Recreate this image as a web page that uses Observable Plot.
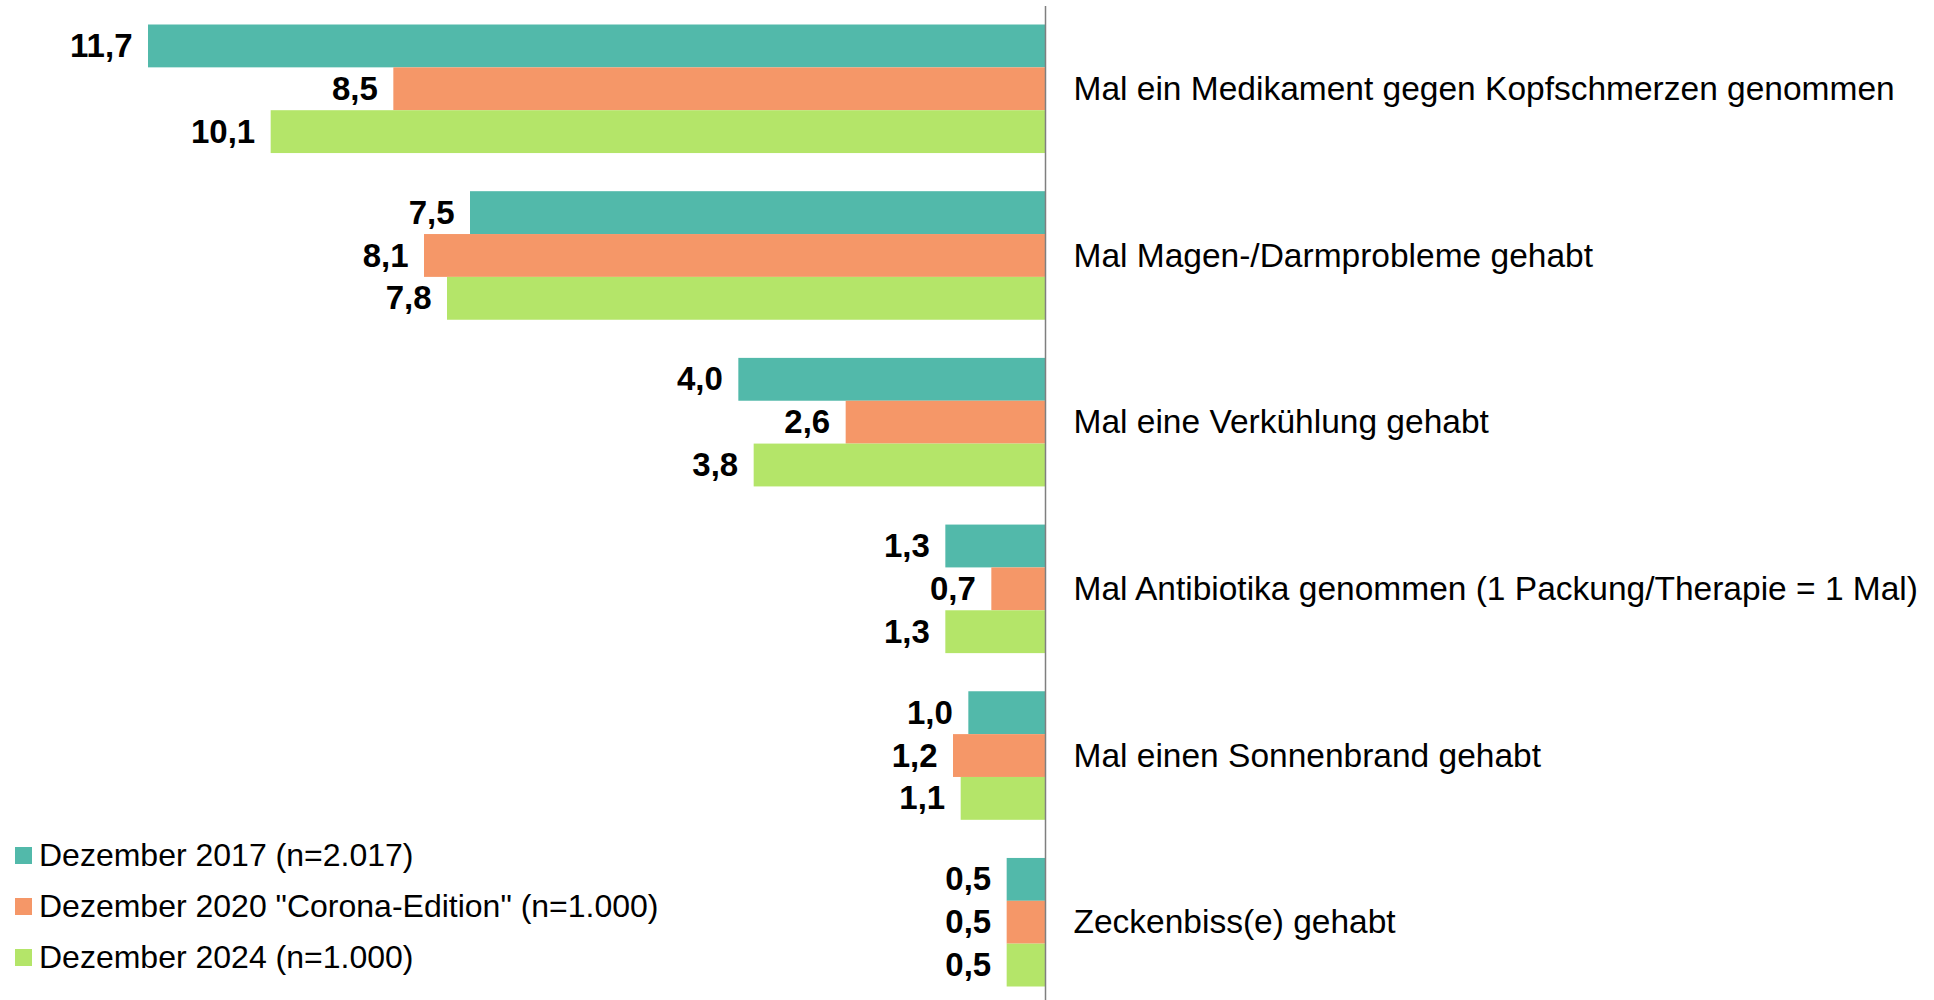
<!DOCTYPE html>
<html>
<head>
<meta charset="utf-8">
<script src="https://cdn.jsdelivr.net/npm/d3@7"></script>
<script src="https://cdn.jsdelivr.net/npm/@observablehq/plot@0.6"></script>
<style>
  html, body { margin: 0; padding: 0; background: #fff; }
  #wrap { position: relative; width: 1934px; height: 1000px; font-family: "Liberation Sans", Arial, sans-serif; }
  #legend { position: absolute; left: 15px; top: 830px; }
  .row { display: flex; align-items: center; height: 51px; font-size: 32px; color: #000; }
  .sw { width: 17px; height: 17px; margin-right: 7px; flex: none; }
</style>
</head>
<body>
<div id="wrap"><div id="legend"></div></div>
<script>
const categories = [
  "Mal ein Medikament gegen Kopfschmerzen genommen",
  "Mal Magen-/Darmprobleme gehabt",
  "Mal eine Verkühlung gehabt",
  "Mal Antibiotika genommen (1 Packung/Therapie = 1 Mal)",
  "Mal einen Sonnenbrand gehabt",
  "Zeckenbiss(e) gehabt"
];
const series = [
  "Dezember 2017 (n=2.017)",
  "Dezember 2020 \"Corona-Edition\" (n=1.000)",
  "Dezember 2024 (n=1.000)"
];
const v2017 = [11.7, 7.5, 4.0, 1.3, 1.0, 0.5];
const v2020 = [8.5, 8.1, 2.6, 0.7, 1.2, 0.5];
const v2024 = [10.1, 7.8, 3.8, 1.3, 1.1, 0.5];
const colors = ["#52B9AA", "#F59768", "#B4E569"];

const G = 3.89; // group step, in bar heights
const valuesBySeries = [v2017, v2020, v2024];
const rows = [];
categories.forEach((c, i) => {
  valuesBySeries.forEach((vals, j) => {
    rows.push({cat: c, series: series[j], value: vals[i], pos: i * G + j});
  });
});
const fmt = v => v.toFixed(1).replace(".", ",");

const chart = Plot.plot({
  width: 1934,
  height: 1000,
  marginTop: 6,
  marginBottom: 0,
  marginLeft: 0,
  marginRight: 0,
  style: {fontFamily: "Liberation Sans, Arial, sans-serif", background: "#fff"},
  x: {domain: [0, 11.7], range: [1045, 148], axis: null},
  y: {domain: [0, (categories.length - 1) * G + 3], range: [24.5, 986.5], axis: null},
  color: {domain: series, range: colors},
  marks: [
    Plot.rectX(rows, {x: "value", y1: "pos", y2: d => d.pos + 1, fill: "series"}),
    Plot.ruleX([0], {stroke: "#7f7f7f", strokeWidth: 1.5}),
    Plot.text(rows, {x: "value", y: d => d.pos + 0.5, text: d => fmt(d.value), textAnchor: "end", dx: -16, fontWeight: "bold", fontSize: 33, fill: "#000"}),
    Plot.text(categories, {x: () => 0, y: (d, i) => i * G + 1.5, text: d => d, textAnchor: "start", dx: 28, fontSize: 33.5, fill: "#000"})
  ]
});
document.getElementById("wrap").prepend(chart);

const legend = document.getElementById("legend");
series.forEach((s, j) => {
  const row = document.createElement("div");
  row.className = "row";
  const sw = document.createElement("span");
  sw.className = "sw";
  sw.style.background = colors[j];
  const t = document.createElement("span");
  t.textContent = s;
  row.append(sw, t);
  legend.append(row);
});
</script>
</body>
</html>
